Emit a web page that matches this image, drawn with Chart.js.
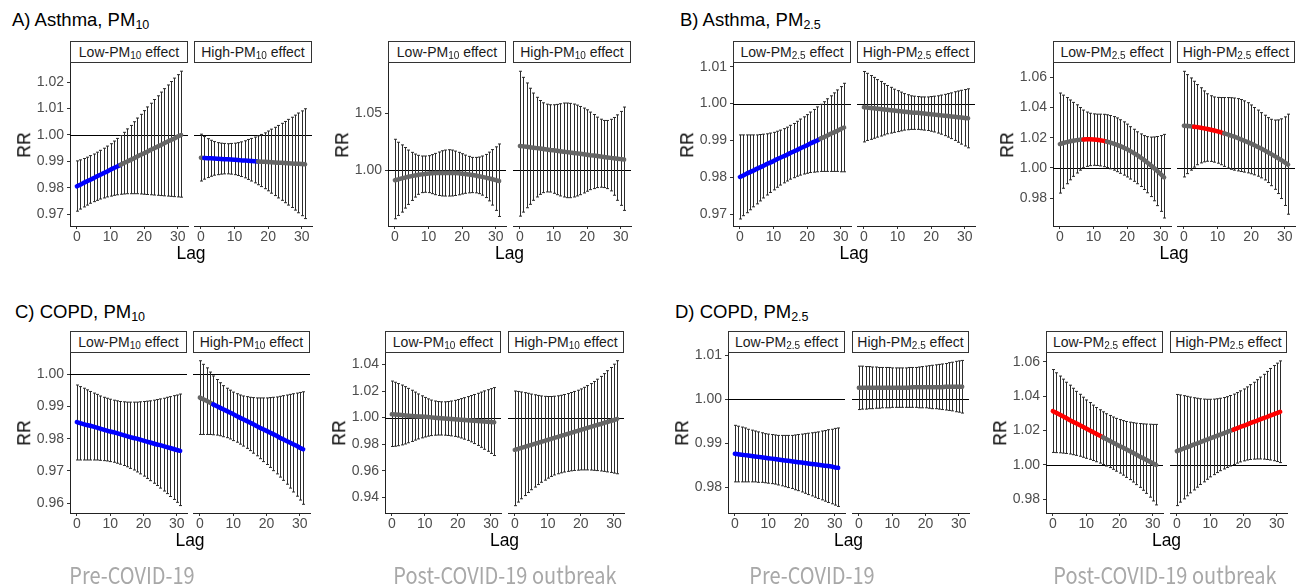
<!DOCTYPE html>
<html lang="en">
<head>
<meta charset="utf-8">
<title>Lag-specific RR of asthma and COPD by PM effect</title>
<script src="https://cdn.jsdelivr.net/npm/chart.js@4.4.1/dist/chart.umd.min.js"></script>
<style>
	html, body { margin: 0; padding: 0; background: #fff; }
	#figure { position: relative; width: 1304px; height: 587px; overflow: hidden; font-family: 'Liberation Sans', Arial, sans-serif; }
	#figure canvas { position: absolute; }
	.title { position: absolute; font-size: 18.5px; line-height: 1; color: #000; white-space: nowrap; }
	.title .sub { font-size: 12.5px; position: relative; top: 3px; }
	.strip { position: absolute; box-sizing: border-box; border: 1px solid #333; background: #fff; color: #1a1a1a; font-size: 14px; line-height: 20px; text-align: center; white-space: nowrap; }
	.strip .sub { font-size: 10px; position: relative; top: 2px; }
	.axis-title { position: absolute; font-size: 17.5px; line-height: 1; color: #000; white-space: nowrap; }
	.rr { transform: translate(-50%, -50%) rotate(-90deg); }
	.lag { transform: translateX(-50%); }
	.period { position: absolute; font-family: 'Noto Sans CJK KR', 'Noto Sans', sans-serif; font-size: 20px; line-height: 1; color: #a8a8a8; white-space: nowrap; transform: translateX(-50%) scaleY(1.15); transform-origin: 50% 100%; }
</style>
</head>
<body>
<div id="figure"></div>
<script>
// lag days and axis ticks
const lags = [0, 1, 2, 3, 4, 5, 6, 7, 8, 9, 10, 11, 12, 13, 14, 15, 16, 17, 18, 19, 20, 21, 22, 23, 24, 25, 26, 27, 28, 29, 30, 31];
const lagTicks = [0, 10, 20, 30];
const asthma10PreTicks = [0.97, 0.98, 0.99, 1.00, 1.01, 1.02];
const asthma10PostTicks = [1.00, 1.05];
const asthma25PreTicks = [0.97, 0.98, 0.99, 1.00, 1.01];
const asthma25PostTicks = [0.98, 1.00, 1.02, 1.04, 1.06];
const copd10PreTicks = [0.96, 0.97, 0.98, 0.99, 1.00];
const copd10PostTicks = [0.94, 0.96, 0.98, 1.00, 1.02, 1.04];
const copd25PreTicks = [0.98, 0.99, 1.00, 1.01];
const copd25PostTicks = [0.98, 1.00, 1.02, 1.04, 1.06];

// A) Asthma, PM10
const asthma10PreLowRR = [0.9806, 0.9812, 0.9819, 0.9825, 0.9831, 0.9837, 0.9844, 0.9850, 0.9856, 0.9862, 0.9869, 0.9875, 0.9881, 0.9887, 0.9894, 0.9900, 0.9906, 0.9912, 0.9919, 0.9925, 0.9931, 0.9937, 0.9944, 0.9950, 0.9956, 0.9962, 0.9969, 0.9975, 0.9981, 0.9987, 0.9994, 1.0000];
const asthma10PreLowLo = [0.9712, 0.9720, 0.9728, 0.9735, 0.9742, 0.9748, 0.9753, 0.9758, 0.9762, 0.9766, 0.9769, 0.9772, 0.9774, 0.9776, 0.9777, 0.9778, 0.9778, 0.9778, 0.9778, 0.9777, 0.9776, 0.9775, 0.9774, 0.9773, 0.9772, 0.9771, 0.9770, 0.9769, 0.9768, 0.9767, 0.9766, 0.9765];
const asthma10PreLowHi = [0.9902, 0.9906, 0.9911, 0.9916, 0.9922, 0.9928, 0.9935, 0.9942, 0.9950, 0.9958, 0.9967, 0.9977, 0.9987, 0.9998, 1.0010, 1.0023, 1.0036, 1.0050, 1.0064, 1.0078, 1.0092, 1.0106, 1.0120, 1.0134, 1.0148, 1.0162, 1.0175, 1.0189, 1.0202, 1.0215, 1.0228, 1.0241];
const asthma10PreHighRR = [0.9914, 0.9913, 0.9912, 0.9912, 0.9911, 0.9910, 0.9909, 0.9908, 0.9908, 0.9907, 0.9906, 0.9905, 0.9904, 0.9904, 0.9903, 0.9902, 0.9901, 0.9900, 0.9899, 0.9899, 0.9898, 0.9897, 0.9896, 0.9895, 0.9895, 0.9894, 0.9893, 0.9892, 0.9891, 0.9891, 0.9890, 0.9889];
const asthma10PreHighLo = [0.9826, 0.9833, 0.9839, 0.9844, 0.9848, 0.9850, 0.9852, 0.9853, 0.9853, 0.9852, 0.9850, 0.9847, 0.9843, 0.9838, 0.9832, 0.9826, 0.9819, 0.9812, 0.9805, 0.9797, 0.9789, 0.9780, 0.9771, 0.9762, 0.9753, 0.9744, 0.9735, 0.9726, 0.9716, 0.9706, 0.9695, 0.9684];
const asthma10PreHighHi = [1.0003, 0.9994, 0.9986, 0.9980, 0.9975, 0.9971, 0.9969, 0.9968, 0.9967, 0.9968, 0.9969, 0.9971, 0.9974, 0.9978, 0.9983, 0.9987, 0.9992, 0.9997, 1.0002, 1.0008, 1.0015, 1.0022, 1.0029, 1.0036, 1.0044, 1.0051, 1.0059, 1.0067, 1.0075, 1.0083, 1.0091, 1.0099];
const asthma10PostLowRR = [0.9915, 0.9923, 0.9931, 0.9938, 0.9945, 0.9951, 0.9957, 0.9962, 0.9966, 0.9970, 0.9973, 0.9975, 0.9977, 0.9978, 0.9979, 0.9979, 0.9979, 0.9978, 0.9977, 0.9975, 0.9972, 0.9969, 0.9965, 0.9961, 0.9956, 0.9950, 0.9944, 0.9938, 0.9931, 0.9924, 0.9916, 0.9908];
const asthma10PostLowLo = [0.9579, 0.9608, 0.9637, 0.9672, 0.9704, 0.9739, 0.9768, 0.9792, 0.9807, 0.9810, 0.9807, 0.9798, 0.9789, 0.9782, 0.9778, 0.9777, 0.9777, 0.9778, 0.9782, 0.9788, 0.9795, 0.9801, 0.9805, 0.9807, 0.9805, 0.9798, 0.9785, 0.9764, 0.9735, 0.9698, 0.9652, 0.9599];
const asthma10PostLowHi = [1.0272, 1.0246, 1.0223, 1.0200, 1.0178, 1.0158, 1.0143, 1.0132, 1.0126, 1.0126, 1.0129, 1.0138, 1.0149, 1.0161, 1.0172, 1.0178, 1.0181, 1.0178, 1.0169, 1.0158, 1.0146, 1.0134, 1.0123, 1.0114, 1.0114, 1.0117, 1.0126, 1.0140, 1.0160, 1.0182, 1.0206, 1.0231];
const asthma10PostHighRR = [1.0214, 1.0210, 1.0206, 1.0202, 1.0199, 1.0195, 1.0191, 1.0187, 1.0183, 1.0179, 1.0176, 1.0172, 1.0168, 1.0164, 1.0160, 1.0156, 1.0153, 1.0149, 1.0145, 1.0141, 1.0137, 1.0133, 1.0130, 1.0126, 1.0122, 1.0118, 1.0114, 1.0110, 1.0107, 1.0103, 1.0099, 1.0095];
const asthma10PostHighLo = [0.9602, 0.9637, 0.9675, 0.9705, 0.9740, 0.9769, 0.9792, 0.9807, 0.9813, 0.9812, 0.9801, 0.9789, 0.9778, 0.9769, 0.9763, 0.9763, 0.9769, 0.9778, 0.9789, 0.9804, 0.9819, 0.9833, 0.9842, 0.9851, 0.9854, 0.9851, 0.9842, 0.9822, 0.9784, 0.9740, 0.9696, 0.9652];
const asthma10PostHighHi = [1.0865, 1.0812, 1.0763, 1.0717, 1.0675, 1.0638, 1.0610, 1.0590, 1.0578, 1.0573, 1.0573, 1.0576, 1.0582, 1.0588, 1.0588, 1.0585, 1.0579, 1.0570, 1.0558, 1.0544, 1.0529, 1.0509, 1.0488, 1.0465, 1.0447, 1.0436, 1.0436, 1.0446, 1.0462, 1.0485, 1.0515, 1.0553];

// B) Asthma, PM2.5
const asthma25PreLowRR = [0.9801, 0.9805, 0.9810, 0.9814, 0.9818, 0.9823, 0.9827, 0.9831, 0.9836, 0.9840, 0.9844, 0.9849, 0.9853, 0.9857, 0.9861, 0.9866, 0.9870, 0.9874, 0.9879, 0.9883, 0.9887, 0.9892, 0.9896, 0.9900, 0.9905, 0.9909, 0.9913, 0.9918, 0.9922, 0.9926, 0.9931, 0.9935];
const asthma25PreLowLo = [0.9687, 0.9696, 0.9704, 0.9712, 0.9720, 0.9728, 0.9736, 0.9744, 0.9752, 0.9759, 0.9766, 0.9773, 0.9779, 0.9785, 0.9790, 0.9795, 0.9799, 0.9803, 0.9806, 0.9809, 0.9811, 0.9813, 0.9814, 0.9815, 0.9816, 0.9816, 0.9816, 0.9816, 0.9816, 0.9816, 0.9815, 0.9815];
const asthma25PreLowHi = [0.9915, 0.9915, 0.9915, 0.9915, 0.9915, 0.9915, 0.9916, 0.9917, 0.9918, 0.9920, 0.9922, 0.9925, 0.9928, 0.9932, 0.9936, 0.9941, 0.9946, 0.9952, 0.9958, 0.9964, 0.9970, 0.9977, 0.9984, 0.9991, 0.9998, 1.0005, 1.0013, 1.0021, 1.0029, 1.0037, 1.0046, 1.0055];
const asthma25PreHighRR = [0.9990, 0.9989, 0.9988, 0.9987, 0.9986, 0.9985, 0.9984, 0.9983, 0.9982, 0.9981, 0.9980, 0.9979, 0.9978, 0.9977, 0.9976, 0.9975, 0.9975, 0.9974, 0.9973, 0.9972, 0.9971, 0.9970, 0.9969, 0.9968, 0.9967, 0.9966, 0.9965, 0.9964, 0.9963, 0.9962, 0.9961, 0.9960];
const asthma25PreHighLo = [0.9896, 0.9900, 0.9903, 0.9906, 0.9909, 0.9912, 0.9915, 0.9918, 0.9920, 0.9922, 0.9924, 0.9926, 0.9928, 0.9929, 0.9930, 0.9930, 0.9930, 0.9929, 0.9928, 0.9927, 0.9925, 0.9923, 0.9920, 0.9917, 0.9913, 0.9909, 0.9905, 0.9900, 0.9895, 0.9890, 0.9885, 0.9880];
const asthma25PreHighHi = [1.0087, 1.0082, 1.0076, 1.0071, 1.0065, 1.0060, 1.0054, 1.0049, 1.0044, 1.0039, 1.0035, 1.0031, 1.0027, 1.0024, 1.0021, 1.0020, 1.0019, 1.0018, 1.0018, 1.0018, 1.0019, 1.0020, 1.0021, 1.0023, 1.0025, 1.0027, 1.0029, 1.0032, 1.0034, 1.0036, 1.0038, 1.0040];
const asthma25PostLowRR = [1.0158, 1.0165, 1.0171, 1.0176, 1.0180, 1.0184, 1.0186, 1.0188, 1.0189, 1.0189, 1.0188, 1.0186, 1.0183, 1.0179, 1.0174, 1.0168, 1.0161, 1.0153, 1.0144, 1.0134, 1.0123, 1.0111, 1.0098, 1.0084, 1.0069, 1.0053, 1.0036, 1.0018, 0.9999, 0.9979, 0.9958, 0.9937];
const asthma25PostLowLo = [0.9833, 0.9865, 0.9895, 0.9921, 0.9944, 0.9966, 0.9985, 1.0001, 1.0010, 1.0015, 1.0017, 1.0016, 1.0013, 1.0008, 1.0002, 0.9994, 0.9985, 0.9975, 0.9964, 0.9952, 0.9940, 0.9926, 0.9911, 0.9895, 0.9877, 0.9857, 0.9835, 0.9810, 0.9782, 0.9750, 0.9712, 0.9668];
const asthma25PostLowHi = [1.0496, 1.0482, 1.0466, 1.0450, 1.0434, 1.0418, 1.0400, 1.0383, 1.0370, 1.0362, 1.0358, 1.0356, 1.0356, 1.0355, 1.0352, 1.0347, 1.0340, 1.0331, 1.0319, 1.0305, 1.0290, 1.0273, 1.0256, 1.0239, 1.0225, 1.0214, 1.0207, 1.0204, 1.0205, 1.0208, 1.0214, 1.0222];
const asthma25PostHighRR = [1.0280, 1.0278, 1.0276, 1.0273, 1.0270, 1.0266, 1.0262, 1.0258, 1.0253, 1.0248, 1.0242, 1.0236, 1.0229, 1.0222, 1.0214, 1.0207, 1.0198, 1.0189, 1.0180, 1.0171, 1.0161, 1.0150, 1.0139, 1.0128, 1.0116, 1.0104, 1.0091, 1.0078, 1.0065, 1.0051, 1.0037, 1.0022];
const asthma25PostHighLo = [0.9940, 0.9962, 0.9985, 1.0005, 1.0021, 1.0033, 1.0040, 1.0044, 1.0043, 1.0038, 1.0031, 1.0021, 1.0010, 0.9999, 0.9991, 0.9985, 0.9980, 0.9976, 0.9972, 0.9967, 0.9961, 0.9954, 0.9945, 0.9934, 0.9920, 0.9903, 0.9882, 0.9858, 0.9830, 0.9797, 0.9751, 0.9693];
const asthma25PostHighHi = [1.0640, 1.0618, 1.0596, 1.0574, 1.0552, 1.0531, 1.0510, 1.0491, 1.0478, 1.0470, 1.0467, 1.0466, 1.0466, 1.0466, 1.0465, 1.0463, 1.0459, 1.0453, 1.0444, 1.0432, 1.0417, 1.0400, 1.0383, 1.0366, 1.0349, 1.0333, 1.0322, 1.0317, 1.0318, 1.0325, 1.0338, 1.0356];

// C) COPD, PM10
const copd10PreLowRR = [0.9851, 0.9848, 0.9845, 0.9842, 0.9840, 0.9837, 0.9834, 0.9831, 0.9828, 0.9825, 0.9822, 0.9820, 0.9817, 0.9814, 0.9811, 0.9808, 0.9805, 0.9802, 0.9800, 0.9797, 0.9794, 0.9791, 0.9788, 0.9785, 0.9782, 0.9780, 0.9777, 0.9774, 0.9771, 0.9768, 0.9765, 0.9762];
const copd10PreLowLo = [0.9734, 0.9734, 0.9734, 0.9734, 0.9734, 0.9734, 0.9734, 0.9733, 0.9732, 0.9731, 0.9729, 0.9727, 0.9724, 0.9721, 0.9717, 0.9713, 0.9708, 0.9703, 0.9697, 0.9691, 0.9684, 0.9677, 0.9670, 0.9662, 0.9655, 0.9647, 0.9638, 0.9630, 0.9621, 0.9612, 0.9603, 0.9593];
const copd10PreLowHi = [0.9966, 0.9961, 0.9956, 0.9951, 0.9946, 0.9941, 0.9937, 0.9932, 0.9928, 0.9925, 0.9922, 0.9919, 0.9917, 0.9915, 0.9914, 0.9913, 0.9913, 0.9913, 0.9913, 0.9914, 0.9915, 0.9916, 0.9917, 0.9919, 0.9921, 0.9923, 0.9925, 0.9928, 0.9930, 0.9933, 0.9935, 0.9938];
const copd10PreHighRR = [0.9927, 0.9922, 0.9917, 0.9912, 0.9906, 0.9901, 0.9896, 0.9891, 0.9886, 0.9881, 0.9876, 0.9870, 0.9865, 0.9860, 0.9855, 0.9850, 0.9845, 0.9839, 0.9834, 0.9829, 0.9824, 0.9819, 0.9814, 0.9809, 0.9803, 0.9798, 0.9793, 0.9788, 0.9783, 0.9778, 0.9772, 0.9767];
const copd10PreHighLo = [0.9813, 0.9813, 0.9813, 0.9813, 0.9812, 0.9811, 0.9809, 0.9806, 0.9803, 0.9799, 0.9794, 0.9789, 0.9783, 0.9777, 0.9770, 0.9763, 0.9755, 0.9747, 0.9738, 0.9729, 0.9720, 0.9711, 0.9701, 0.9691, 0.9681, 0.9671, 0.9659, 0.9647, 0.9635, 0.9622, 0.9610, 0.9597];
const copd10PreHighHi = [1.0041, 1.0030, 1.0019, 1.0006, 0.9994, 0.9983, 0.9973, 0.9964, 0.9956, 0.9950, 0.9944, 0.9939, 0.9935, 0.9932, 0.9930, 0.9928, 0.9927, 0.9926, 0.9926, 0.9926, 0.9926, 0.9927, 0.9928, 0.9929, 0.9931, 0.9933, 0.9935, 0.9937, 0.9939, 0.9941, 0.9943, 0.9945];
const copd10PostLowRR = [1.0025, 1.0023, 1.0021, 1.0019, 1.0017, 1.0015, 1.0013, 1.0011, 1.0009, 1.0008, 1.0006, 1.0004, 1.0002, 1.0000, 0.9998, 0.9996, 0.9994, 0.9992, 0.9990, 0.9988, 0.9986, 0.9984, 0.9982, 0.9980, 0.9978, 0.9977, 0.9975, 0.9973, 0.9971, 0.9969, 0.9967, 0.9965];
const copd10PostLowLo = [0.9783, 0.9785, 0.9789, 0.9795, 0.9802, 0.9811, 0.9821, 0.9831, 0.9840, 0.9848, 0.9855, 0.9861, 0.9865, 0.9868, 0.9869, 0.9869, 0.9868, 0.9866, 0.9863, 0.9859, 0.9854, 0.9847, 0.9838, 0.9829, 0.9818, 0.9805, 0.9791, 0.9777, 0.9762, 0.9747, 0.9731, 0.9715];
const copd10PostLowHi = [1.0275, 1.0266, 1.0256, 1.0245, 1.0233, 1.0220, 1.0206, 1.0192, 1.0178, 1.0164, 1.0152, 1.0141, 1.0132, 1.0125, 1.0121, 1.0119, 1.0119, 1.0121, 1.0125, 1.0130, 1.0136, 1.0143, 1.0150, 1.0158, 1.0166, 1.0174, 1.0183, 1.0192, 1.0201, 1.0210, 1.0218, 1.0226];
const copd10PostHighRR = [0.9758, 0.9765, 0.9773, 0.9780, 0.9788, 0.9795, 0.9803, 0.9810, 0.9818, 0.9825, 0.9833, 0.9840, 0.9848, 0.9855, 0.9863, 0.9870, 0.9878, 0.9885, 0.9893, 0.9900, 0.9908, 0.9915, 0.9923, 0.9930, 0.9938, 0.9945, 0.9952, 0.9960, 0.9967, 0.9975, 0.9982, 0.9990];
const copd10PostHighLo = [0.9338, 0.9365, 0.9390, 0.9414, 0.9437, 0.9458, 0.9478, 0.9497, 0.9514, 0.9530, 0.9545, 0.9558, 0.9569, 0.9578, 0.9585, 0.9591, 0.9596, 0.9600, 0.9603, 0.9605, 0.9607, 0.9607, 0.9607, 0.9606, 0.9604, 0.9602, 0.9599, 0.9596, 0.9592, 0.9588, 0.9583, 0.9578];
const copd10PostHighHi = [1.0200, 1.0197, 1.0193, 1.0188, 1.0183, 1.0177, 1.0172, 1.0167, 1.0163, 1.0160, 1.0159, 1.0159, 1.0161, 1.0164, 1.0168, 1.0174, 1.0181, 1.0189, 1.0197, 1.0206, 1.0216, 1.0228, 1.0241, 1.0256, 1.0272, 1.0289, 1.0310, 1.0331, 1.0353, 1.0377, 1.0402, 1.0428];

// D) COPD, PM2.5
const copd25PreLowRR = [0.9876, 0.9875, 0.9874, 0.9873, 0.9872, 0.9871, 0.9870, 0.9869, 0.9868, 0.9867, 0.9866, 0.9865, 0.9864, 0.9863, 0.9862, 0.9861, 0.9860, 0.9859, 0.9858, 0.9857, 0.9856, 0.9855, 0.9854, 0.9853, 0.9852, 0.9851, 0.9850, 0.9849, 0.9848, 0.9847, 0.9845, 0.9844];
const copd25PreLowLo = [0.9812, 0.9812, 0.9812, 0.9812, 0.9812, 0.9812, 0.9812, 0.9811, 0.9811, 0.9810, 0.9809, 0.9808, 0.9807, 0.9805, 0.9803, 0.9801, 0.9799, 0.9797, 0.9794, 0.9792, 0.9789, 0.9786, 0.9783, 0.9780, 0.9777, 0.9774, 0.9771, 0.9768, 0.9765, 0.9762, 0.9759, 0.9756];
const copd25PreLowHi = [0.9941, 0.9939, 0.9937, 0.9935, 0.9932, 0.9930, 0.9928, 0.9926, 0.9924, 0.9922, 0.9921, 0.9920, 0.9919, 0.9918, 0.9918, 0.9918, 0.9918, 0.9918, 0.9919, 0.9920, 0.9921, 0.9922, 0.9923, 0.9924, 0.9925, 0.9926, 0.9928, 0.9929, 0.9931, 0.9932, 0.9934, 0.9935];
const copd25PreHighRR = [1.0027, 1.0027, 1.0027, 1.0027, 1.0027, 1.0027, 1.0027, 1.0027, 1.0027, 1.0027, 1.0027, 1.0027, 1.0027, 1.0027, 1.0027, 1.0027, 1.0028, 1.0028, 1.0028, 1.0028, 1.0028, 1.0028, 1.0028, 1.0028, 1.0028, 1.0028, 1.0029, 1.0029, 1.0029, 1.0029, 1.0029, 1.0029];
const copd25PreHighLo = [0.9977, 0.9978, 0.9978, 0.9979, 0.9979, 0.9980, 0.9980, 0.9981, 0.9981, 0.9981, 0.9982, 0.9982, 0.9982, 0.9982, 0.9982, 0.9982, 0.9982, 0.9982, 0.9981, 0.9981, 0.9981, 0.9980, 0.9979, 0.9979, 0.9978, 0.9977, 0.9976, 0.9975, 0.9974, 0.9972, 0.9971, 0.9969];
const copd25PreHighHi = [1.0076, 1.0076, 1.0075, 1.0075, 1.0074, 1.0074, 1.0073, 1.0073, 1.0073, 1.0073, 1.0072, 1.0072, 1.0072, 1.0072, 1.0072, 1.0073, 1.0073, 1.0073, 1.0074, 1.0075, 1.0076, 1.0077, 1.0078, 1.0079, 1.0080, 1.0081, 1.0082, 1.0084, 1.0085, 1.0087, 1.0088, 1.0089];
const copd25PostLowRR = [1.0313, 1.0303, 1.0293, 1.0283, 1.0273, 1.0262, 1.0252, 1.0242, 1.0232, 1.0222, 1.0212, 1.0202, 1.0192, 1.0182, 1.0172, 1.0161, 1.0151, 1.0141, 1.0131, 1.0121, 1.0111, 1.0101, 1.0091, 1.0081, 1.0071, 1.0061, 1.0050, 1.0040, 1.0030, 1.0020, 1.0010, 1.0000];
const copd25PostLowLo = [1.0073, 1.0072, 1.0071, 1.0069, 1.0067, 1.0064, 1.0060, 1.0056, 1.0051, 1.0045, 1.0039, 1.0033, 1.0026, 1.0019, 1.0011, 1.0003, 0.9994, 0.9985, 0.9975, 0.9964, 0.9953, 0.9941, 0.9928, 0.9915, 0.9901, 0.9886, 0.9870, 0.9853, 0.9835, 0.9813, 0.9791, 0.9768];
const copd25PostLowHi = [1.0555, 1.0536, 1.0517, 1.0499, 1.0481, 1.0464, 1.0446, 1.0428, 1.0411, 1.0394, 1.0378, 1.0363, 1.0348, 1.0334, 1.0321, 1.0309, 1.0298, 1.0288, 1.0279, 1.0271, 1.0264, 1.0258, 1.0253, 1.0249, 1.0246, 1.0243, 1.0241, 1.0239, 1.0238, 1.0237, 1.0236, 1.0236];
const copd25PostHighRR = [1.0081, 1.0088, 1.0096, 1.0103, 1.0110, 1.0118, 1.0125, 1.0132, 1.0140, 1.0147, 1.0155, 1.0162, 1.0169, 1.0177, 1.0184, 1.0191, 1.0199, 1.0206, 1.0213, 1.0221, 1.0228, 1.0235, 1.0243, 1.0250, 1.0257, 1.0265, 1.0272, 1.0279, 1.0287, 1.0294, 1.0302, 1.0309];
const copd25PostHighLo = [0.9764, 0.9784, 0.9803, 0.9821, 0.9838, 0.9855, 0.9871, 0.9887, 0.9902, 0.9917, 0.9931, 0.9944, 0.9956, 0.9967, 0.9977, 0.9986, 0.9994, 1.0003, 1.0011, 1.0018, 1.0024, 1.0029, 1.0032, 1.0034, 1.0035, 1.0035, 1.0034, 1.0032, 1.0029, 1.0025, 1.0020, 1.0014];
const copd25PostHighHi = [1.0410, 1.0407, 1.0403, 1.0399, 1.0395, 1.0391, 1.0388, 1.0385, 1.0383, 1.0382, 1.0382, 1.0383, 1.0385, 1.0388, 1.0392, 1.0397, 1.0404, 1.0412, 1.0421, 1.0431, 1.0442, 1.0454, 1.0467, 1.0481, 1.0496, 1.0511, 1.0527, 1.0544, 1.0561, 1.0578, 1.0592, 1.0605];

const GREY = '#666666';
const BLUE = '#0000ff';
const RED = '#ff0000';
const FACET_GAP = 7;
const Y_AXIS_W = 50;
const X_AXIS_H = 26;
const PAD_TOP = 12;
const PAD_SIDE = 10;
const LAG_MIN = -2.05;
const LAG_MAX = 33.05;
const CAP_HALF = 0.45; // error bar cap half-width, in lag units

const rows = [
	{ stripTop: 41, panelTop: 63, panelBottom: 226, titleBase: 26.5, lagBase: 260 },
	{ stripTop: 331, panelTop: 353, panelBottom: 513, titleBase: 318.5, lagBase: 547 },
];

const titles = [
	{ text: 'A) Asthma, ', pm: '10', left: 12, row: 0 },
	{ text: 'B) Asthma, ', pm: '2.5', left: 680, row: 0 },
	{ text: 'C) COPD, ', pm: '10', left: 15, row: 1 },
	{ text: 'D) COPD, ', pm: '2.5', left: 675, row: 1 },
];

const periods = [
	{ text: 'Pre-COVID-19', center: 132 },
	{ text: 'Post-COVID-19 outbreak', center: 505 },
	{ text: 'Pre-COVID-19', center: 812 },
	{ text: 'Post-COVID-19 outbreak', center: 1165 },
];

const panels = [
	{ row: 0, x0: 70, x1: 312, pm: '10', yMin: 0.9656, yMax: 1.0272, yTicks: asthma10PreTicks,
		low: [asthma10PreLowRR, asthma10PreLowLo, asthma10PreLowHi], high: [asthma10PreHighRR, asthma10PreHighLo, asthma10PreHighHi] },
	{ row: 0, x0: 388, x1: 631, pm: '10', yMin: 0.9516, yMax: 1.0937, yTicks: asthma10PostTicks,
		low: [asthma10PostLowRR, asthma10PostLowLo, asthma10PostLowHi], high: [asthma10PostHighRR, asthma10PostHighLo, asthma10PostHighHi] },
	{ row: 0, x0: 733, x1: 975, pm: '2.5', yMin: 0.9668, yMax: 1.0110, yTicks: asthma25PreTicks,
		low: [asthma25PreLowRR, asthma25PreLowLo, asthma25PreLowHi], high: [asthma25PreHighRR, asthma25PreHighLo, asthma25PreHighHi] },
	{ row: 0, x0: 1053, x1: 1295, pm: '2.5', yMin: 0.9615, yMax: 1.0695, yTicks: asthma25PostTicks,
		low: [asthma25PostLowRR, asthma25PostLowLo, asthma25PostLowHi], high: [asthma25PostHighRR, asthma25PostHighLo, asthma25PostHighHi] },
	{ row: 1, x0: 70, x1: 310, pm: '10', yMin: 0.9570, yMax: 1.0065, yTicks: copd10PreTicks,
		low: [copd10PreLowRR, copd10PreLowLo, copd10PreLowHi], high: [copd10PreHighRR, copd10PreHighLo, copd10PreHighHi] },
	{ row: 1, x0: 385, x1: 624, pm: '10', yMin: 0.9283, yMax: 1.0486, yTicks: copd10PostTicks,
		low: [copd10PostLowRR, copd10PostLowLo, copd10PostLowHi], high: [copd10PostHighRR, copd10PostHighLo, copd10PostHighHi] },
	{ row: 1, x0: 728, x1: 969, pm: '2.5', yMin: 0.9741, yMax: 1.0106, yTicks: copd25PreTicks,
		low: [copd25PreLowRR, copd25PreLowLo, copd25PreLowHi], high: [copd25PreHighRR, copd25PreHighLo, copd25PreHighHi] },
	{ row: 1, x0: 1046, x1: 1287, pm: '2.5', yMin: 0.9721, yMax: 1.0651, yTicks: copd25PostTicks,
		low: [copd25PostLowRR, copd25PostLowLo, copd25PostLowHi], high: [copd25PostHighRR, copd25PostHighLo, copd25PostHighHi] },
];

const figure = document.querySelector('#figure');
const tickFont = { family: "'Liberation Sans', Arial, sans-serif", size: 14 };

function place(className, html, style) {
	const el = document.createElement('div');
	el.className = className;
	el.innerHTML = html;
	Object.assign(el.style, style);
	figure.appendChild(el);
	return el;
}

function pmText(pm) {
	return `PM<span class="sub">${pm}</span>`;
}

// blue where the whole CI is below 1, red where it is above 1
function sigColor(lo, hi) {
	if (hi < 1) return BLUE;
	if (lo > 1) return RED;
	return GREY;
}

function errorBarPlugin(lo, hi) {
	return {
		id: 'errorBars',
		beforeDatasetsDraw(chart) {
			const { ctx, chartArea, scales: { x, y } } = chart;
			ctx.save();
			ctx.lineWidth = 1;
			ctx.strokeStyle = '#000';
			const yOne = Math.round(y.getPixelForValue(1)) + 0.5;
			ctx.beginPath();
			ctx.moveTo(chartArea.left, yOne);
			ctx.lineTo(chartArea.right, yOne);
			ctx.stroke();

			ctx.strokeStyle = '#2b2b2b';
			lags.forEach((lag, i) => {
				const px = Math.round(x.getPixelForValue(lag)) + 0.5;
				const half = (x.getPixelForValue(lag + CAP_HALF) - x.getPixelForValue(lag - CAP_HALF)) / 2;
				const top = y.getPixelForValue(hi[i]);
				const bottom = y.getPixelForValue(lo[i]);
				ctx.beginPath();
				ctx.moveTo(px, top);
				ctx.lineTo(px, bottom);
				ctx.moveTo(px - half, top);
				ctx.lineTo(px + half, top);
				ctx.moveTo(px - half, bottom);
				ctx.lineTo(px + half, bottom);
				ctx.stroke();
			});
			ctx.restore();
		},
	};
}

function axisStyle() {
	return {
		grid: { display: true, drawOnChartArea: false, drawTicks: true, tickLength: 3, color: '#333', lineWidth: 1 },
		border: { display: true, color: '#222', width: 1 },
	};
}

function addFacet(panel, series, isLeft, label) {
	const row = rows[panel.row];
	const [rr, lo, hi] = series;
	const width = Math.round((panel.x1 - panel.x0 - FACET_GAP) / 2);
	const panelLeft = isLeft ? panel.x0 : panel.x1 - width;
	const padLeft = isLeft ? Y_AXIS_W : PAD_SIDE;
	const panelHeight = row.panelBottom - row.panelTop;

	place('strip', label, {
		left: `${panelLeft}px`,
		top: `${row.stripTop}px`,
		width: `${width}px`,
		height: `${row.panelTop - row.stripTop}px`,
	});

	const canvas = document.createElement('canvas');
	canvas.width = padLeft + width + PAD_SIDE;
	canvas.height = PAD_TOP + panelHeight + X_AXIS_H;
	canvas.style.left = `${panelLeft - padLeft}px`;
	canvas.style.top = `${row.panelTop - PAD_TOP}px`;
	figure.appendChild(canvas);

	const colors = lags.map((lag, i) => sigColor(lo[i], hi[i]));

	return new Chart(canvas, {
		type: 'line',
		data: {
			datasets: [{
				data: lags.map((lag, i) => ({ x: lag, y: rr[i] })),
				borderColor: GREY,
				borderWidth: 4.5,
				borderCapStyle: 'round',
				borderJoinStyle: 'round',
				pointRadius: 0,
				tension: 0,
				segment: {
					borderColor: (ctx) => {
						const a = colors[ctx.p0DataIndex];
						return a === colors[ctx.p1DataIndex] ? a : GREY;
					},
				},
			}],
		},
		options: {
			responsive: false,
			animation: false,
			events: [],
			layout: { padding: { left: isLeft ? 0 : PAD_SIDE, right: PAD_SIDE, top: PAD_TOP, bottom: 0 } },
			plugins: { legend: { display: false }, tooltip: { enabled: false } },
			scales: {
				x: {
					type: 'linear',
					min: LAG_MIN,
					max: LAG_MAX,
					afterBuildTicks: (scale) => { scale.ticks = lagTicks.map((value) => ({ value })); },
					afterFit: (scale) => { scale.height = X_AXIS_H; },
					ticks: { color: '#4d4d4d', font: tickFont, padding: 0, maxRotation: 0, autoSkip: false },
					...axisStyle(),
				},
				y: {
					type: 'linear',
					display: isLeft,
					min: panel.yMin,
					max: panel.yMax,
					afterBuildTicks: (scale) => { scale.ticks = panel.yTicks.map((value) => ({ value })); },
					// only the left facet of a pair carries the RR axis
					afterFit: (scale) => { scale.width = isLeft ? Y_AXIS_W : 0; },
					ticks: { color: '#4d4d4d', font: tickFont, padding: 3, autoSkip: false, callback: (value) => Number(value).toFixed(2) },
					...axisStyle(),
				},
			},
		},
		plugins: [errorBarPlugin(lo, hi)],
	});
}

for (const title of titles) {
	const row = rows[title.row];
	place('title', `${title.text}${pmText(title.pm)}`, {
		left: `${title.left}px`,
		top: `${row.titleBase - 0.846 * 18.5}px`,
	});
}

for (const panel of panels) {
	const row = rows[panel.row];
	addFacet(panel, panel.low, true, `Low-${pmText(panel.pm)} effect`);
	addFacet(panel, panel.high, false, `High-${pmText(panel.pm)} effect`);
	place('axis-title rr', 'RR', {
		left: `${panel.x0 - 45.5}px`,
		top: `${(row.panelTop + row.panelBottom) / 2}px`,
	});
	place('axis-title lag', 'Lag', {
		left: `${(panel.x0 + panel.x1) / 2}px`,
		top: `${row.lagBase - 0.846 * 17.5}px`,
	});
}

for (const period of periods) {
	place('period', period.text, { left: `${period.center}px`, top: '566px' });
}
</script>
</body>
</html>
